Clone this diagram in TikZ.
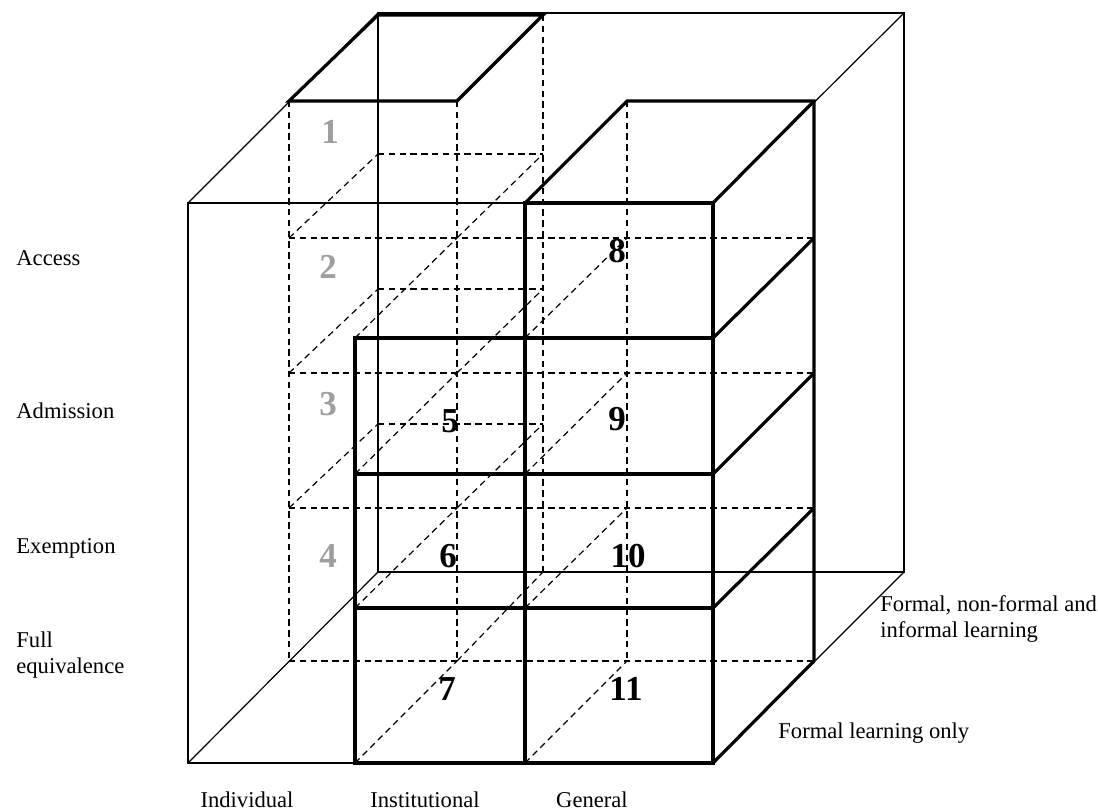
\documentclass[tikz,border=0pt]{standalone}
\usepackage{fontspec}
\setmainfont{Liberation Serif}
\begin{document}
\begin{tikzpicture}[x=0.5pt,y=-0.5pt,
  thinline/.style={line width=0.6pt,black},
  dashline/.style={line width=0.6pt,black,dash pattern=on 3.2pt off 2.2pt},
  thickline/.style={line width=1.6pt,black,line join=miter},
  lab/.style={font=\fontsize{11.3}{13}\selectfont,inner sep=0pt,anchor=base},
  leftlab/.style={lab,anchor=base west,align=left},
  num/.style={font=\fontsize{17.5}{20}\selectfont\bfseries,inner sep=0pt,anchor=base},
  greynum/.style={num,text=black!38}]
\useasboundingbox (0,0) rectangle (1098,810);
% corner coordinates: front plane (F), middle plane (M), back plane (B)
\foreach \c/\x in {0/188,1/355,2/525,3/713}
  \foreach \r/\y in {0/203,1/338,2/474,3/608,4/763}
    \coordinate (F\c\r) at (\x,\y);
\foreach \c/\x in {0/289,1/457,2/627,3/814}
  \foreach \r/\y in {0/101,1/238,2/373,3/508,4/661}
    \coordinate (M\c\r) at (\x,\y);
\foreach \c/\x in {0/378,1/543,3/904}
  \foreach \r/\y in {0/13,1/154,2/289,3/424,4/572}
    \coordinate (B\c\r) at (\x,\y);
\coordinate (T0) at (378,15);
\coordinate (T1) at (543,15);
% outer box (thin)
\draw[thinline] (F00) -- (F30) -- (F34) -- (F04) -- cycle;
\draw[thinline] (B00) -- (B30) -- (B34) -- (B04) -- cycle;
\draw[thinline] (F00) -- (B00);
\draw[thinline] (F04) -- (B04);
\draw[thinline] (F30) -- (B30);
\draw[thinline] (F34) -- (B34);
% middle plane (dashed)
\foreach \r in {1,2,3,4} \draw[dashline] (M0\r) -- (M3\r);
\foreach \c in {0,1,2} \draw[dashline] (M\c0) -- (M\c4);
% back of the individual column (dashed)
\foreach \r in {1,2,3} \draw[dashline] (B0\r) -- (B1\r);
\draw[dashline] (T1) -- (B14);
\foreach \r in {1,2,3} \draw[dashline] (M0\r) -- (B0\r);
\foreach \r in {1,2,3,4} \draw[dashline] (M1\r) -- (B1\r);
% hidden depth edges of the front blocks
\foreach \r in {1,2,3,4} \draw[dashline] (F1\r) -- (M1\r);
\foreach \r in {1,2,3,4} \draw[dashline] (F2\r) -- (M2\r);
% general block (thick)
\draw[thickline] (F20) -- (F30) -- (F34) -- (F24) -- cycle;
\foreach \r in {1,2,3} \draw[thickline] (F2\r) -- (F3\r);
\draw[thickline] (F20) -- (M20) -- (M30) -- (M34);
\foreach \r in {0,1,2,3,4} \draw[thickline] (F3\r) -- (M3\r);
% institutional block (thick)
\draw[thickline] (F11) -- (F21) -- (F24) -- (F14) -- cycle;
\foreach \r in {2,3} \draw[thickline] (F1\r) -- (F2\r);
% top of the individual column (thick)
\draw[thickline] (M00) -- (M10) -- (T1) -- (T0) -- cycle;
% cell numbers
\node[greynum] (n1) at (330,143) {1};
\node[greynum] (n2) at (328,278) {2};
\node[greynum] (n3) at (328,415) {3};
\node[greynum] (n4) at (328,567) {4};
\node[num] (n5) at (450,432) {5};
\node[num] (n6) at (448,567) {6};
\node[num] (n7) at (447,700) {7};
\node[num] (n8) at (617,262) {8};
\node[num] (n9) at (617,430) {9};
\node[num] (n10) at (628,567) {10};
\node[num] (n11) at (626,700) {11};
% row labels
\node[leftlab] (access) at (16,265) {Access};
\node[leftlab] (admission) at (16,418) {Admission};
\node[leftlab] (exemption) at (16,553) {Exemption};
\node[leftlab] (full) at (16,673) {Full\\equivalence};
% column labels
\node[lab] (indiv) at (247,807) {Individual};
\node[lab] (instit) at (425,807) {Institutional};
\node[lab] (general) at (592,807) {General};
% depth labels
\node[leftlab] (nonformal) at (880,637) {Formal, non-formal and\\informal learning};
\node[leftlab] (formal) at (778,738) {Formal learning only};
\end{tikzpicture}
\end{document}
